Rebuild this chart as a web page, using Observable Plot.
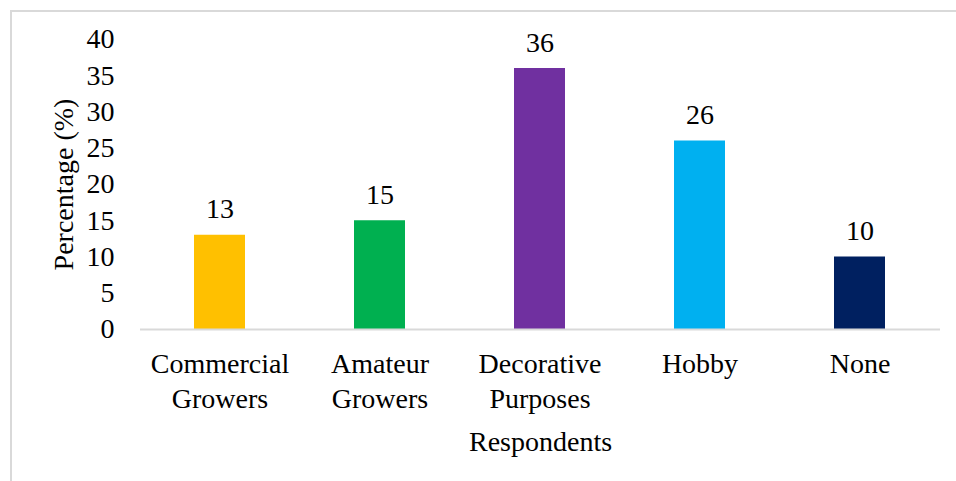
<!DOCTYPE html>
<html>
<head>
<meta charset="utf-8">
<script src="https://cdn.jsdelivr.net/npm/d3@7"></script>
<script src="https://cdn.jsdelivr.net/npm/@observablehq/plot@0.6"></script>
<style>
  html, body { margin: 0; padding: 0; background: #fff; }
  #wrap { position: relative; width: 956px; height: 481px; overflow: hidden; }
  #border { position: absolute; left: 10px; top: 10px; width: 2000px; height: 2000px;
            border-left: 2px solid #d9d9d9; border-top: 2px solid #d9d9d9; pointer-events: none; }
</style>
</head>
<body>
<div id="wrap"><div id="border"></div></div>
<script>
const categories = ["Commercial Growers", "Amateur Growers", "Decorative Purposes", "Hobby", "None"];
const tickLabels = ["Commercial\nGrowers", "Amateur\nGrowers", "Decorative\nPurposes", "Hobby", "None"];
const values = [13, 15, 36, 26, 10];
const colors = ["#FFC000", "#00B050", "#7030A0", "#00B0F0", "#002060"];
const yTicks = [0, 5, 10, 15, 20, 25, 30, 35, 40];
const yTitle = "Percentage (%)";
const xTitle = "Respondents";

const data = categories.map((c, i) => ({category: c, value: values[i], color: colors[i]}));
const labelOf = new Map(categories.map((c, i) => [c, tickLabels[i]]));

const chart = Plot.plot({
  width: 956,
  height: 481,
  marginLeft: 140,
  marginRight: 16,
  marginTop: 39,
  marginBottom: 152,
  style: {fontFamily: "'Liberation Serif', 'Times New Roman', serif", fontSize: "28px", color: "#000", background: "transparent"},
  x: {type: "band", domain: categories, paddingInner: 0.68, paddingOuter: 0.34, align: 0.5},
  y: {domain: [0, 40]},
  marks: [
    Plot.barY(data, {x: "category", y: "value", fill: "color"}),
    Plot.ruleY([0], {stroke: "#d9d9d9", strokeWidth: 2}),
    Plot.text(data, {x: "category", y: "value", text: d => String(d.value), lineAnchor: "bottom", dy: -17, fontSize: 28, fill: "#000"}),
    Plot.axisY({ticks: yTicks, tickSize: 0, tickPadding: 26, label: null, fontSize: 28, fill: "#000"}),
    Plot.axisX({tickSize: 0, tickPadding: 19, tickFormat: d => labelOf.get(d), lineHeight: 1.25, lineAnchor: "top", label: null, fontSize: 28, fill: "#000"}),
    Plot.text([xTitle], {frameAnchor: "bottom", text: d => d, dy: 121, lineAnchor: "bottom", fontSize: 28, fill: "#000"}),
    Plot.text([yTitle], {frameAnchor: "left", text: d => d, dx: -68, rotate: -90, lineAnchor: "bottom", textAnchor: "middle", fontSize: 28, fill: "#000"})
  ]
});
document.getElementById("wrap").appendChild(chart);
chart.style.position = "absolute";
chart.style.left = "0";
chart.style.top = "0";
</script>
</body>
</html>
